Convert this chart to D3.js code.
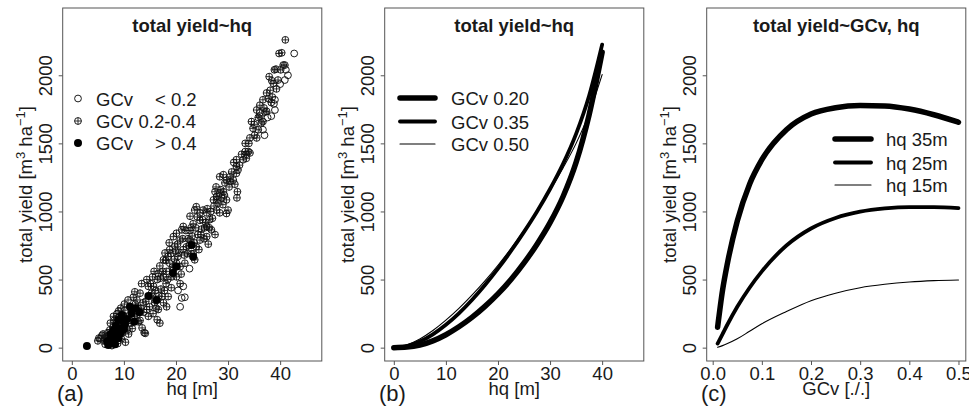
<!DOCTYPE html>
<html>
<head>
<meta charset="utf-8">
<script src="https://cdn.jsdelivr.net/npm/d3@7"></script>
<style>
  html, body { margin: 0; padding: 0; background: #fff; }
  svg { display: block; font-family: "Liberation Sans", Arial, Helvetica, sans-serif; }
  text { fill: #1a1a1a; }
</style>
</head>
<body>
<svg id="fig" width="969" height="414"></svg>
<script>
// ---------- data ----------
// (a) observed stands: [hq (m), total yield (m3/ha)] grouped by GCv class
const gcvLow = [
  [5.4,65],[20.8,300],[21.1,365],[21.7,370],[21.4,450],[20.4,420],[22.6,580],
  [36.1,1725],[36.7,1600],[37.6,1690],[38.3,1700],[39.0,1820],[39.0,1745],[40.0,1935],
  [41.1,2040],[41.5,2000],[40.9,1965],[42.7,2160],[38.8,1790],[37.0,1560]
];
const gcvMid = [
  [5.2,70],[5.8,90],[6.1,55],[6.4,25],[6.7,80],[6.9,110],[7.0,35],[7.3,130],[7.5,60],[7.7,15],
  [7.9,150],[8.0,45],[8.2,95],[8.4,175],[8.6,140],[8.8,30],[8.9,220],[9.1,120],[9.3,180],[9.5,65],
  [9.6,105],[9.8,240],[10.0,160],[10.2,275],[10.3,40],[10.5,225],[10.7,130],[10.9,100],[11.1,300],[11.2,200],
  [11.5,275],[11.6,140],[11.8,370],[12.0,230],[12.2,320],[12.5,350],[12.5,240],[12.8,190],[13.1,400],[13.1,200],
  [13.3,290],[13.5,145],[13.7,330],[13.9,110],[14.1,105],[14.4,500],[14.4,280],[14.7,450],[14.7,230],[15.0,380],
  [15.3,400],[15.5,520],[15.7,450],[15.9,330],[16.0,350],[16.2,290],[16.4,500],[16.4,205],[16.6,545],[16.6,280],
  [16.9,180],[16.9,600],[17.1,430],[17.3,375],[17.6,645],[17.6,520],[17.6,330],[17.9,695],[18.1,470],[18.2,300],
  [18.2,560],[18.5,670],[18.5,375],[18.8,720],[18.8,620],[19.1,440],[19.3,590],[19.5,815],[19.5,570],[19.8,745],
  [20.1,840],[20.1,620],[20.1,520],[20.4,670],[20.8,790],[20.8,595],[20.8,470],[21.1,865],[21.4,890],[21.4,720],
  [21.7,620],[22.0,740],[22.3,800],[22.7,965],[22.7,790],[22.7,860],[23.0,690],[23.3,910],[23.3,690],[23.6,1010],
  [23.6,645],[23.9,1035],[23.9,740],[24.2,830],[24.6,990],[24.6,935],[24.6,790],[24.9,870],[25.2,1010],[25.5,880],
  [25.9,890],[25.9,990],[25.9,815],[26.2,760],[26.5,940],[26.8,865],[27.2,1085],[27.5,830],[27.5,1145],[27.8,1110],
  [27.8,1010],[28.1,1060],[28.4,1135],[28.4,1255],[28.4,990],[28.8,1100],[29.1,1270],[29.1,1145],[29.4,1210],[29.7,1230],
  [29.7,985],[29.7,1085],[30.0,1010],[30.4,1255],[30.4,1220],[31.0,1230],[31.1,1360],[31.6,1380],[31.6,1330],[31.6,1280],
  [31.7,1100],[31.8,1145],[31.9,1305],[32.6,1420],[33.3,1500],[33.3,1440],[33.5,1420],[33.5,1390],[33.9,1440],[34.2,1540],
  [34.2,1430],[34.5,1660],[34.8,1610],[35.1,1560],[35.5,1745],[35.5,1540],[35.8,1600],[36.1,1780],[36.1,1700],[36.4,1650],
  [36.7,1820],[36.7,1660],[37.1,1730],[37.4,1870],[37.4,1735],[37.9,1990],[38.1,1890],[38.3,1800],[38.5,1840],[38.7,1940],
  [38.9,2040],[39.2,2045],[39.6,1965],[39.8,2160],[40.3,2165],[40.6,2075],[40.9,2075],[41.0,2260],
  [5.0,50],[6.0,100],[6.3,70],[7.1,90],[7.4,180],[8.0,230],[8.1,200],[8.7,250],[9.0,270],[9.4,290],
  [10.1,320],[10.8,350],[11.4,180],[12.1,410],[12.7,290],[13.4,470],[13.8,260],[14.2,340],[14.9,300],[15.1,470],
  [15.6,250],[15.8,560],[16.1,420],[16.7,380],[17.0,510],[17.4,560],[17.8,420],[18.0,640],[18.4,500],[18.7,770],
  [19.0,690],[19.2,520],[19.7,650],[19.9,710],[20.3,760],[20.6,700],[21.0,540],[21.3,800],[21.6,680],[21.9,860],
  [22.2,690],[22.5,750],[22.9,880],[23.1,820],[23.5,770],[23.8,880],[24.1,960],[24.4,720],[24.8,830],[25.1,940],
  [25.4,800],[25.7,920],[26.0,1020],[26.4,880],[26.7,1000],[27.0,950],[27.3,1040],[27.7,1180],[28.0,1090],[28.6,1160],
  [29.0,1050],[29.3,1120],[30.2,1180],[30.7,1290],[31.3,1200],[32.2,1340],[32.9,1380],[34.0,1500],[35.0,1640],[35.8,1690],
  [36.9,1760],[37.7,1830],[38.4,1960],[39.3,1900],[40.1,2040]
];
const gcvHigh = [
  [2.9,12],[6.8,45],[7.0,20],[7.3,56],[7.5,100],[7.6,80],[7.9,110],[8.0,130],[8.2,60],[8.3,25],
  [8.5,160],[8.7,90],[8.9,203],[9.0,70],[9.2,140],[9.4,110],[9.6,240],[9.9,190],[10.0,135],[10.2,170],
  [10.6,210],[11.2,301],[11.5,250],[12.0,190],[12.3,290],[13.0,260],[14.7,380],[16.3,350],
  [19.4,548],[20.1,595],[23.0,754],[23.3,668]
];

// (b) model curves: total yield against hq for three GCv levels
const hqGrid = [0, 2.5, 5, 7.5, 10, 12.5, 15, 17.5, 20, 22.5, 25, 27.5, 30, 32.5, 35, 37.5, 40];
const yieldGcv020 = [0, 4, 19, 50, 95, 153, 222, 303, 395, 500, 622, 760, 918, 1110, 1360, 1710, 2170];
const yieldGcv035 = [0, 12, 45, 98, 168, 252, 350, 460, 580, 710, 850, 1000, 1165, 1350, 1570, 1850, 2225];
const yieldGcv050 = [0, 20, 64, 126, 202, 288, 385, 490, 605, 728, 860, 1003, 1155, 1320, 1500, 1720, 2005];

// (c) model curves: total yield against GCv for three dominant heights
const gcvGrid = [0.01, 0.02, 0.03, 0.05, 0.075, 0.1, 0.15, 0.2, 0.25, 0.3, 0.35, 0.4, 0.45, 0.5];
const yieldHq35 = [150, 420, 620, 930, 1200, 1380, 1600, 1715, 1762, 1778, 1775, 1752, 1710, 1655];
const yieldHq25 = [30, 100, 170, 300, 440, 560, 750, 875, 952, 998, 1022, 1032, 1032, 1025];
const yieldHq15 = [3, 15, 30, 65, 120, 175, 265, 345, 400, 440, 465, 482, 492, 497];

const yTicks = [0, 500, 1000, 1500, 2000];
const hqTicks = [0, 10, 20, 30, 40];
const gcvTicks = [0.0, 0.1, 0.2, 0.3, 0.4, 0.5];

// ---------- layout ----------
const svg = d3.select("#fig");
const panelW = 322;
const box = { left: 62.7, right: 321.8, top: 8, bottom: 361 };
const FS = 18.5;
const frameColor = "#555";

const y = d3.scaleLinear().domain([-98, 2494]).range([box.bottom, box.top]);

function panel(i, xScale, xTicks, xFmt, title, xLabel, tag) {
  const g = svg.append("g").attr("transform", `translate(${i * panelW},0)`);

  // x axis
  const ax = g.append("g").attr("transform", `translate(0,${box.bottom})`)
    .call(d3.axisBottom(xScale).tickValues(xTicks).tickFormat(xFmt).tickSize(4).tickSizeOuter(0));
  ax.select(".domain").remove();
  ax.selectAll(".tick line").attr("stroke", frameColor);
  ax.selectAll(".tick text").attr("y", 18.5).attr("dy", 0)
    .style("font-size", FS + "px").style("fill", "#1a1a1a");

  // y axis with labels parallel to the axis
  const ay = g.append("g").attr("transform", `translate(${box.left},0)`)
    .call(d3.axisLeft(y).tickValues(yTicks).tickFormat(d3.format("d")).tickSize(4).tickSizeOuter(0));
  ay.select(".domain").remove();
  ay.selectAll(".tick line").attr("stroke", frameColor);
  ay.selectAll(".tick text")
    .attr("transform", "rotate(-90)")
    .attr("x", 0).attr("y", -11).attr("dy", 0)
    .attr("text-anchor", "middle")
    .style("font-size", FS + "px").style("fill", "#1a1a1a");

  // frame
  g.append("rect")
    .attr("x", box.left).attr("y", box.top)
    .attr("width", box.right - box.left).attr("height", box.bottom - box.top)
    .attr("fill", "none").attr("stroke", frameColor).attr("stroke-width", 1);

  const cx = (box.left + box.right) / 2;
  g.append("text").attr("x", cx).attr("y", 31.5).attr("text-anchor", "middle")
    .style("font-size", "18.5px").style("font-weight", "bold").text(title);

  g.append("text").attr("x", cx).attr("y", 394.5).attr("text-anchor", "middle")
    .style("font-size", FS + "px").text(xLabel);

  const yl = g.append("text")
    .attr("transform", `translate(32,${(box.top + box.bottom) / 2}) rotate(-90)`)
    .attr("text-anchor", "middle").style("font-size", FS + "px");
  yl.append("tspan").text("total yield [m");
  yl.append("tspan").attr("dy", -7).style("font-size", "13px").text("3");
  yl.append("tspan").attr("dy", 7).text(" ha");
  yl.append("tspan").attr("dy", -7).style("font-size", "13px").text("\u22121");
  yl.append("tspan").attr("dy", 7).text("]");

  g.append("text").attr("x", 57).attr("y", 401)
    .style("font-size", "22px").text(tag);

  return g;
}

// ---------- (a) scatter ----------
const xa = d3.scaleLinear().domain([-1.75, 48]).range([box.left, box.right]);
const ga = panel(0, xa, hqTicks, d3.format("d"), "total yield~hq", "hq [m]", "(a)");
const R = 3.4;

function crossed(sel, cx, cy, r) {
  sel.append("circle").attr("cx", cx).attr("cy", cy).attr("r", r)
    .attr("fill", "none").attr("stroke", "#111").attr("stroke-width", 0.95);
  sel.append("path").attr("d", `M${cx - r},${cy}H${cx + r}M${cx},${cy - r}V${cy + r}`)
    .attr("stroke", "#111").attr("stroke-width", 0.85);
}

const pts = ga.append("g");
gcvLow.forEach(d => {
  pts.append("circle").attr("cx", xa(d[0])).attr("cy", y(d[1])).attr("r", R)
    .attr("fill", "none").attr("stroke", "#111").attr("stroke-width", 0.95);
});
gcvMid.forEach(d => crossed(pts, xa(d[0]), y(d[1]), R));
gcvHigh.forEach(d => {
  pts.append("circle").attr("cx", xa(d[0])).attr("cy", y(d[1])).attr("r", 4).attr("fill", "#000");
});

// legend (a)
const legA = ga.append("g");
const legRows = [98.5, 121, 143];
legA.append("circle").attr("cx", 78).attr("cy", legRows[0]).attr("r", R)
  .attr("fill", "none").attr("stroke", "#111").attr("stroke-width", 0.95);
crossed(legA, 78, legRows[1], R);
legA.append("circle").attr("cx", 78).attr("cy", legRows[2]).attr("r", 4).attr("fill", "#000");
[["GCv", 96, 0], ["< 0.2", 155, 0], ["GCv", 96, 1], ["0.2-0.4", 138.5, 1], ["GCv", 96, 2], ["> 0.4", 155, 2]]
  .forEach(([t, x0, r]) => legA.append("text").attr("x", x0).attr("y", legRows[r] + 7)
    .style("font-size", FS + "px").text(t));

// ---------- (b) curves against hq ----------
const xb = d3.scaleLinear().domain([-1.75, 48]).range([box.left, box.right]);
const gb = panel(1, xb, hqTicks, d3.format("d"), "total yield~hq", "hq [m]", "(b)");
const lineB = d3.line().x(d => xb(d[0])).y(d => y(d[1])).curve(d3.curveMonotoneX);
const seriesB = [
  { label: "GCv 0.20", vals: yieldGcv020, w: 5.5 },
  { label: "GCv 0.35", vals: yieldGcv035, w: 3.8 },
  { label: "GCv 0.50", vals: yieldGcv050, w: 1.1 }
];
seriesB.forEach(s => {
  gb.append("path").datum(hqGrid.map((h, i) => [h, s.vals[i]]))
    .attr("d", lineB).attr("fill", "none").attr("stroke", "#000")
    .attr("stroke-width", s.w).attr("stroke-linecap", "round").attr("stroke-linejoin", "round");
});
const legBRows = [98, 121.5, 144];
seriesB.forEach((s, i) => {
  gb.append("line").attr("x1", 78).attr("x2", 113).attr("y1", legBRows[i]).attr("y2", legBRows[i])
    .attr("stroke", "#000").attr("stroke-width", s.w).attr("stroke-linecap", "round");
  gb.append("text").attr("x", 129).attr("y", legBRows[i] + 7).style("font-size", FS + "px").text(s.label);
});

// ---------- (c) curves against GCv ----------
const xc = d3.scaleLinear().domain([-0.0122, 0.5149]).range([box.left, box.right]);
const gc = panel(2, xc, gcvTicks, d3.format(".1f"), "total yield~GCv, hq", "GCv [./.]", "(c)");
const lineC = d3.line().x(d => xc(d[0])).y(d => y(d[1])).curve(d3.curveMonotoneX);
const seriesC = [
  { label: "hq 35m", vals: yieldHq35, w: 5.5 },
  { label: "hq 25m", vals: yieldHq25, w: 3.8 },
  { label: "hq 15m", vals: yieldHq15, w: 1.1 }
];
seriesC.forEach(s => {
  gc.append("path").datum(gcvGrid.map((v, i) => [v, s.vals[i]]))
    .attr("d", lineC).attr("fill", "none").attr("stroke", "#000")
    .attr("stroke-width", s.w).attr("stroke-linecap", "round").attr("stroke-linejoin", "round");
});
const legCRows = [139, 162.5, 185];
seriesC.forEach((s, i) => {
  gc.append("line").attr("x1", 191).attr("x2", 227).attr("y1", legCRows[i]).attr("y2", legCRows[i])
    .attr("stroke", "#000").attr("stroke-width", s.w).attr("stroke-linecap", "round");
  gc.append("text").attr("x", 242).attr("y", legCRows[i] + 7).style("font-size", FS + "px").text(s.label);
});
</script>
</body>
</html>
